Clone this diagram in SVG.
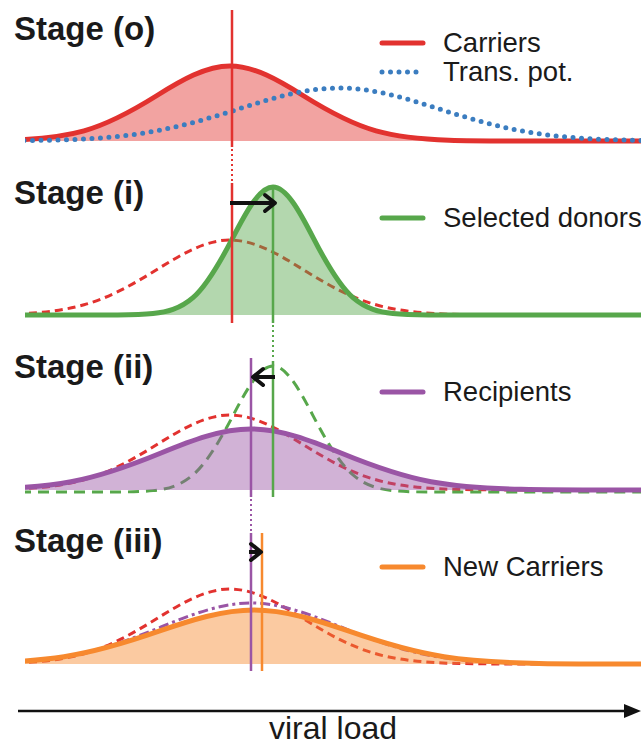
<svg xmlns="http://www.w3.org/2000/svg" width="641" height="746" viewBox="0 0 641 746">
<style>
text{font-family:"Liberation Sans",Arial,Helvetica,sans-serif;fill:#1a1a1a}
.title{font-size:33px;font-weight:bold}
.leg{font-size:27.5px}
.vl{stroke-width:2.5;fill:none}
.dot{stroke-width:2;stroke-dasharray:2 3;fill:none}
.line{fill:none;stroke-width:5;stroke-linejoin:round}
.dash{fill:none;stroke-width:3;stroke-dasharray:8 5}
.gdash{fill:none;stroke-width:3;stroke-dasharray:11 7}
.dashdot{fill:none;stroke-width:3;stroke-dasharray:10 4 3 4}
.area{stroke:none;fill-opacity:.45}
.red{stroke:#e2322f}
.redf{fill:#e2322f}
.green{stroke:#57a74b}
.greenf{fill:#57a74b}
.purple{stroke:#9a55a5}
.purplef{fill:#9a55a5}
.orange{stroke:#f7892e}
.orangef{fill:#f7892e}
.blue{stroke:#3b7dc0;stroke-width:5;stroke-linecap:round;stroke-dasharray:0 8.5;fill:none}
.leg-line{stroke-width:5;stroke-linecap:round}
.arrow{stroke:#111;stroke-width:4;fill:none;marker-end:url(#chev)}
</style>
<defs>
<clipPath id="cx"><rect x="25" y="-1000" width="620" height="2000"/></clipPath>
<marker id="chev" markerUnits="userSpaceOnUse" markerWidth="24" markerHeight="24" viewBox="-16 -12 24 24" refX="0" refY="0" orient="auto" overflow="visible">
<path d="M-10,-8 L0,0 L-10,8" fill="none" stroke="#111" stroke-width="4" stroke-linecap="round" stroke-linejoin="round"/>
</marker>
<path id="r" d="M-62,0 C-37.7,-0.1 -13.3,0 11,-0.8 C35.3,-1.7 59.7,-3.4 84,-10.2 C108.3,-16.9 132.7,-30.3 157,-45.5 C181.3,-60.7 205.7,-75 230,-75 C254.3,-75 278.7,-60.7 303,-45.5 C327.3,-30.3 351.7,-16.9 376,-10.2 C400.3,-3.4 424.7,-1.7 449,-0.8 C473.3,0 497.7,-0.1 522,0 L641,0"/>
<path id="b" d="M-61,0 C-27.7,0 5.7,0 39,-0.6 C72.3,-1.2 105.7,-2.4 139,-7.2 C172.3,-12 205.7,-21.4 239,-32.1 C272.3,-42.9 305.7,-53 339,-53 C372.3,-53 405.7,-42.9 439,-32.1 C472.3,-21.4 505.7,-12 539,-7.2 C572.3,-2.4 605.7,-1.2 639,-0.6 L650,0"/>
<path id="g" d="M20,0 L113,0 C126.3,-0.1 139.7,0 153,-1.4 C166.3,-2.8 179.7,-5.8 193,-17.3 C206.3,-28.9 219.7,-51.8 233,-77.6 C246.3,-103.5 259.7,-128 273,-128 C286.3,-128 299.7,-103.5 313,-77.6 C326.3,-51.8 339.7,-28.9 353,-17.3 C366.3,-5.8 379.7,-2.8 393,-1.4 C406.3,0 419.7,-0.1 433,0 L641,0"/>
<path id="p" d="M-109,0 C-79,0 -49,0 -19,-0.7 C11,-1.4 41,-2.8 71,-8.3 C101,-13.8 131,-24.7 161,-37 C191,-49.3 221,-61 251,-61 C281,-61 311,-49.3 341,-37 C371,-24.7 401,-13.8 431,-8.3 C461,-2.8 491,-1.4 521,-0.7 C551,0 581,0 611,0 L641,0"/>
<path id="o" d="M-126,0 C-94.4,0 -62.6,0 -31,-0.6 C0.6,-1.2 32.4,-2.4 64,-7.3 C95.6,-12.2 127.4,-21.8 159,-32.8 C190.6,-43.7 222.4,-54 254,-54 C285.6,-54 317.4,-43.7 349,-32.8 C380.6,-21.8 412.4,-12.2 444,-7.3 C475.6,-2.4 507.4,-1.2 539,-0.6 C570.6,0 602.4,0 634,0 L641,0"/>
</defs>
<rect width="641" height="746" fill="#fff"/>

<g id="panel-o">
<text class="title" x="14" y="40">Stage (o)</text>
<use href="#r" transform="translate(0,141)" class="area redf" clip-path="url(#cx)"/>
<use href="#r" transform="translate(0,141)" class="line red" clip-path="url(#cx)"/>
<use href="#b" transform="translate(0,141)" class="blue" clip-path="url(#cx)"/>
<line x1="232" y1="10" x2="232" y2="147" class="vl red"/>
<line x1="382" y1="43" x2="423" y2="43" class="leg-line red"/>
<text class="leg" x="443" y="52">Carriers</text>
<line x1="382" y1="72" x2="424" y2="72" class="blue"/>
<text class="leg" x="443" y="81">Trans. pot.</text>
</g>

<g id="panel-i">
<text class="title" x="14" y="204">Stage (i)</text>
<use href="#r" transform="translate(0,315)" class="dash red" clip-path="url(#cx)"/>
<use href="#g" transform="translate(0,315)" class="area greenf" clip-path="url(#cx)"/>
<use href="#g" transform="translate(0,315)" class="line green" clip-path="url(#cx)"/>
<line x1="232" y1="183" x2="232" y2="323" class="vl red"/>
<line x1="273" y1="186" x2="273" y2="323" class="vl green"/>
<line x1="382" y1="218" x2="423" y2="218" class="leg-line green"/>
<text class="leg" x="443" y="227">Selected donors</text>
</g>

<g id="panel-ii">
<text class="title" x="14" y="378">Stage (ii)</text>
<use href="#r" transform="translate(0,490)" class="dash red" clip-path="url(#cx)"/>
<use href="#g" transform="translate(0,492) scale(1,0.985)" class="gdash green" clip-path="url(#cx)"/>
<use href="#p" transform="translate(0,490)" class="area purplef" clip-path="url(#cx)"/>
<use href="#p" transform="translate(0,490)" class="line purple" clip-path="url(#cx)"/>
<line x1="273" y1="361" x2="273" y2="497" class="vl green"/>
<line x1="251" y1="358" x2="251" y2="497" class="vl purple"/>
<line x1="382" y1="392" x2="423" y2="392" class="leg-line purple"/>
<text class="leg" x="443" y="401">Recipients</text>
</g>

<g id="panel-iii">
<text class="title" x="14" y="552">Stage (iii)</text>
<use href="#r" transform="translate(0,664)" class="dash red" clip-path="url(#cx)"/>
<use href="#p" transform="translate(0,664)" class="dashdot purple" clip-path="url(#cx)"/>
<use href="#o" transform="translate(0,664)" class="area orangef" clip-path="url(#cx)"/>
<use href="#o" transform="translate(0,664)" class="line orange" clip-path="url(#cx)"/>
<line x1="251" y1="533" x2="251" y2="671" class="vl purple"/>
<line x1="262" y1="533" x2="262" y2="671" class="vl orange"/>
<line x1="382" y1="567" x2="423" y2="567" class="leg-line orange"/>
<text class="leg" x="443" y="576">New Carriers</text>
</g>

<g id="connectors">
<line x1="232" y1="149" x2="232" y2="182" class="dot red"/>
<line x1="273" y1="325" x2="273" y2="360" class="dot green"/>
<line x1="251" y1="499" x2="251" y2="532" class="dot purple"/>
<line x1="230" y1="203" x2="275" y2="203" class="arrow"/>
<line x1="275" y1="377" x2="253" y2="377" class="arrow"/>
<line x1="249" y1="552" x2="261" y2="552" class="arrow"/>
</g>

<g id="axis">
<line x1="18" y1="711" x2="628" y2="711" stroke="#111" stroke-width="2.5"/>
<polygon points="624,704 641,711 624,718" fill="#111"/>
<text x="333" y="739" text-anchor="middle" style="font-size:32px">viral load</text>
</g>
</svg>
